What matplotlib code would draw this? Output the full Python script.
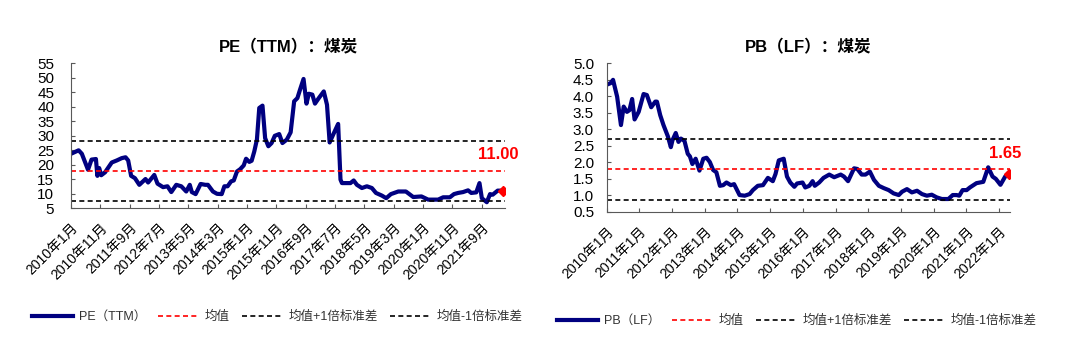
import matplotlib

matplotlib.use("Agg")
import matplotlib.pyplot as plt
from matplotlib.lines import Line2D

plt.rcParams["font.family"] = ["Liberation Sans", "Noto Sans CJK SC", "DejaVu Sans"]

# 月份偏移 (0 = 2010年1月)
pe_month = [0, 2.6, 3.7, 5.8, 7, 8.5, 9, 9.6, 10.3, 11.6, 13.9, 15.6, 17.3, 18.6, 19.5,
            20.5, 21.8, 23.3, 25.4, 26.3, 28.4, 29.5, 31.4, 32.9, 34.2, 35.9, 37.6, 39.3,
            40.5, 41.2, 42.5, 44.2, 45.8, 46.7, 48.4, 49.8, 51.4, 52.3, 53.4, 54.6, 55.5,
            56.6, 57.7, 58.9, 59.7, 60.8, 61.6, 62.5, 63.4, 64.2, 65.3, 66.2, 67.3, 68.4,
            69.5, 71, 72.1, 73.6, 74.9, 76.1, 77.2, 78.1, 79.3, 80.3, 81.1, 82.3, 83.2,
            84.5, 86.2, 87.3, 88.2, 89.4, 91.1, 91.9, 92.4, 94.1, 95.3, 96.4, 97.5, 99.2,
            100.9, 102.6, 104, 106, 107.5, 109.1, 111.6, 114.2, 116.7, 119.5, 121.8, 125.2,
            126.9, 129.2, 130.6, 132, 133.7, 135.4, 136.5, 138.2, 139.3, 140.1, 141.8,
            142.9, 143.8, 145.5, 147.2]
pe_value = [23.7, 24.9, 23.7, 18.2, 21.7, 21.9, 16.1, 18.8, 16.3, 17.3, 20.7, 21.4, 22.2,
            22.5, 21.4, 16.1, 15.3, 13.0, 15.0, 13.8, 16.4, 13.4, 12.2, 12.5, 10.5, 13.0,
            12.5, 10.7, 13.0, 10.5, 9.8, 13.3, 13.0, 13.0, 10.7, 9.9, 9.8, 12.5, 12.5, 14.2,
            14.5, 17.6, 18.4, 19.7, 22.0, 20.9, 21.3, 24.5, 28.6, 39.5, 40.3, 29.1, 26.3,
            27.4, 29.9, 30.5, 27.4, 28.6, 31.1, 41.8, 42.9, 45.8, 49.5, 41.0, 44.4, 44.1,
            41.0, 42.9, 45.2, 40.6, 27.6, 30.3, 34.0, 14.8, 13.6, 13.6, 13.6, 14.5, 13.0,
            11.9, 12.5, 11.9, 10.2, 9.3, 8.4, 9.8, 10.7, 10.7, 8.8, 9.0, 7.9, 7.9, 8.7, 8.7,
            9.8, 10.2, 10.5, 11.1, 10.2, 10.4, 13.6, 8.4, 7.0, 9.8, 9.6, 11.0, 11.0]
pe_mean, pe_up, pe_down = 17.9, 28.2, 7.3

pb_month = [0, 1.5, 2.4, 3.9, 5.3, 6.3, 7.5, 8.4, 9.4, 10.3, 11.8, 13.6, 14.8, 16.4, 17.9,
            18.5, 19.7, 20.9, 22.5, 23.6, 24.2, 25.4, 26.4, 27.3, 28.6, 29.8, 30.6, 31.5,
            32.7, 34.1, 35.5, 36.7, 37.9, 39.1, 40.3, 41.6, 42.8, 44, 45.6, 46.8, 48.8,
            50.7, 52.5, 53.7, 55.5, 57.4, 59.2, 61, 62, 63.2, 65, 66.2, 67.4, 68.9, 69.9,
            71.9, 72.9, 74.4, 75.6, 76.4, 78, 79.6, 81.7, 83.5, 85.9, 87.1, 88.6, 90.8, 92,
            93.6, 95, 96.6, 98.1, 99.9, 101.7, 103.5, 105.3, 107.2, 108.4, 110.2, 112,
            113.9, 115.7, 117.5, 119.3, 121.1, 123, 125.4, 127, 128.4, 129.4, 130.6, 132.1,
            133.3, 135.7, 138.2, 140, 141.6, 142.8, 144.5, 146.3, 147.6]
pb_value = [4.34, 4.39, 4.49, 3.98, 3.12, 3.68, 3.52, 3.57, 3.91, 3.29, 3.52, 4.06, 4.03,
            3.66, 3.83, 3.83, 3.42, 3.12, 2.78, 2.45, 2.66, 2.88, 2.61, 2.71, 2.64, 2.25,
            2.17, 1.94, 2.10, 1.74, 2.10, 2.13, 2.00, 1.76, 1.69, 1.28, 1.30, 1.38, 1.30,
            1.33, 1.00, 0.98, 1.03, 1.15, 1.28, 1.30, 1.52, 1.42, 1.64, 2.05, 2.10, 1.56,
            1.38, 1.25, 1.35, 1.38, 1.23, 1.28, 1.42, 1.28, 1.38, 1.52, 1.62, 1.54, 1.62,
            1.56, 1.42, 1.81, 1.79, 1.62, 1.62, 1.71, 1.46, 1.28, 1.21, 1.15, 1.05, 1.00,
            1.10, 1.18, 1.08, 1.13, 1.03, 0.98, 1.01, 0.93, 0.88, 0.88, 1.00, 1.00, 0.98,
            1.15, 1.15, 1.23, 1.36, 1.40, 1.84, 1.56, 1.49, 1.31, 1.57, 1.65]
pb_mean, pb_up, pb_down = 1.79, 2.71, 0.845

pe_tick_labels = ["2010年1月", "2010年11月", "2011年9月", "2012年7月", "2013年5月",
                  "2014年3月", "2015年1月", "2015年11月", "2016年9月", "2017年7月",
                  "2018年5月", "2019年3月", "2020年1月", "2020年11月", "2021年9月"]
pb_tick_labels = [f"{y}年1月" for y in range(2010, 2023)]

NAVY = "#000080"
GRAY = "#595959"


def draw_panel(ax, months, values, mean, up, down, title, last_label, yticks, tick_step,
               tick_labels, ytxt, yfmt, ypad):
    ax.plot(months, values, color=NAVY, lw=3.0, solid_joinstyle="round")
    for lvl, col in ((mean, "#FF0000"), (up, "black"), (down, "black")):
        ax.axhline(lvl, color=col, lw=1.2, ls=(0, (3, 2)))
    ax.plot(months[-1], values[-1], marker="D", color="#FF0000", ms=5)
    ax.text(months[-1] - 1.5, ytxt, last_label, color="#FF0000", fontsize=12,
            fontweight="bold", ha="center", va="center")
    ax.set_xlim(0, 148)
    ax.set_ylim(yticks[0], yticks[-1])
    ax.set_yticks(yticks)
    ax.set_yticklabels([yfmt.format(v) for v in yticks], fontsize=11)
    ax.set_xticks([i * tick_step for i in range(len(tick_labels))])
    ax.set_xticklabels(tick_labels, rotation=45, ha="right", rotation_mode="anchor",
                       fontsize=10)
    ax.tick_params(direction="in", length=3, color=GRAY)
    ax.tick_params(axis="y", pad=ypad)
    ax.tick_params(axis="x", pad=9)
    for side in ("top", "right"):
        ax.spines[side].set_visible(False)
    for side in ("left", "bottom"):
        ax.spines[side].set_color(GRAY)
    ax.set_title(title, fontsize=12, fontweight="bold", pad=8)


def add_legend(fig, name, x, y):
    handles = [
        Line2D([], [], color=NAVY, lw=3.0),
        Line2D([], [], color="#FF0000", lw=1.2, ls=(0, (3, 2))),
        Line2D([], [], color="black", lw=1.2, ls=(0, (3, 2))),
        Line2D([], [], color="black", lw=1.2, ls=(0, (3, 2))),
    ]
    labels = [name, "均值", "均值+1倍标准差", "均值-1倍标准差"]
    leg = fig.legend(handles, labels, loc="center left", bbox_to_anchor=(x, y), ncol=4,
                     frameon=False, fontsize=9, handlelength=3.3, handletextpad=0.45,
                     columnspacing=0.95, borderpad=0, borderaxespad=0)
    for t in leg.get_texts():
        t.set_color("#333333")


fig = plt.figure(figsize=(10.8, 3.52), dpi=100)
ax1 = fig.add_axes([71 / 1080, 0.409, 434 / 1080, 0.412])
ax2 = fig.add_axes([606.5 / 1080, 0.399, 403.5 / 1080, 0.422])

draw_panel(ax1, pe_month, pe_value, pe_mean, pe_up, pe_down, "PE（TTM）：煤炭", "11.00",
           list(range(5, 56, 5)), 10, pe_tick_labels, 23.3, "{:d}", 12)
draw_panel(ax2, pb_month, pb_value, pb_mean, pb_up, pb_down, "PB（LF）：煤炭", "1.65",
           [0.5 + 0.5 * i for i in range(10)], 12, pb_tick_labels, 2.26, "{:.1f}", 9)

add_legend(fig, "PE（TTM）", 32 / 1080, 1 - 317 / 352)
add_legend(fig, "PB（LF）", 557 / 1080, 1 - 321 / 352)

fig.savefig("out.png", dpi=100)
